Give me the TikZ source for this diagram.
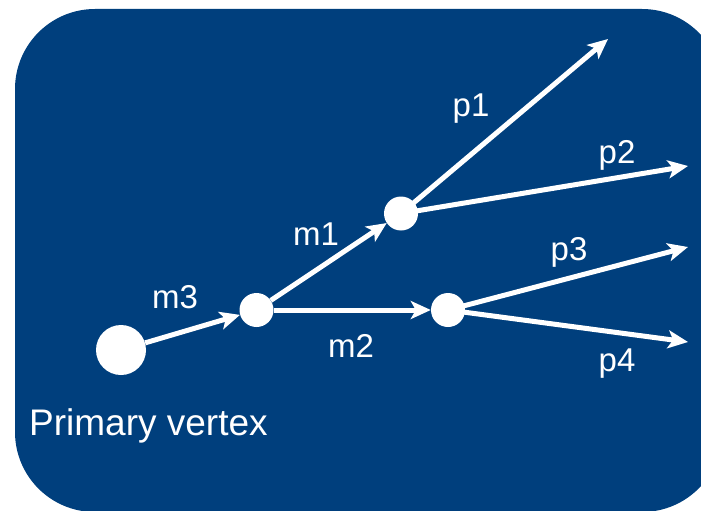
\documentclass[tikz,border=0pt]{standalone}
\usepackage{fontspec}
\setmainfont{Liberation Sans}
\usetikzlibrary{arrows.meta}
\definecolor{panelblue}{RGB}{0,63,125}
\tikzset{
  vtx/.style={circle,fill=white,draw=none,inner sep=0pt,minimum size=#1},
  track/.style={draw=white,line width=5pt,-{Stealth[length=20pt,width=18pt,inset=5pt]}},
  lbl/.style={text=white,font=\fontsize{33}{38}\selectfont,anchor=base,inner sep=0pt},
}
\begin{document}
\begin{tikzpicture}[x=1pt,y=-1pt]
\useasboundingbox (0,0) rectangle (701,511);
\fill[panelblue,rounded corners=80pt] (15,9) rectangle (722,512);
\node[vtx=50pt] (pv) at (121,350) {};
\node[vtx=34pt] (a) at (256.5,310) {};
\node[vtx=34pt] (b) at (401,213.5) {};
\node[vtx=34pt] (c) at (448,310) {};
\coordinate (e1) at (608,39);
\coordinate (e2) at (688,166);
\coordinate (e3) at (688,247);
\coordinate (e4) at (688,342);
\draw[track] (pv) -- (a);
\draw[track] (a) -- (b);
\draw[track] (a) -- (c);
\draw[track] (b.center) -- (e1);
\draw[track] (b.center) -- (e2);
\draw[track] (c.center) -- (e3);
\draw[track] (c.center) -- (e4);
\node[lbl] (lm3) at (175,308) {m3};
\node[lbl] (lm1) at (316,245) {m1};
\node[lbl] (lm2) at (351,357) {m2};
\node[lbl] (lp1) at (471,116) {p1};
\node[lbl] (lp2) at (617,163) {p2};
\node[lbl] (lp3) at (569,260) {p3};
\node[lbl] (lp4) at (617,371) {p4};
\node[text=white,font=\fontsize{37}{44}\selectfont,anchor=base west,inner sep=0pt] (pvl) at (29,435) {Primary vertex};
\end{tikzpicture}
\end{document}
